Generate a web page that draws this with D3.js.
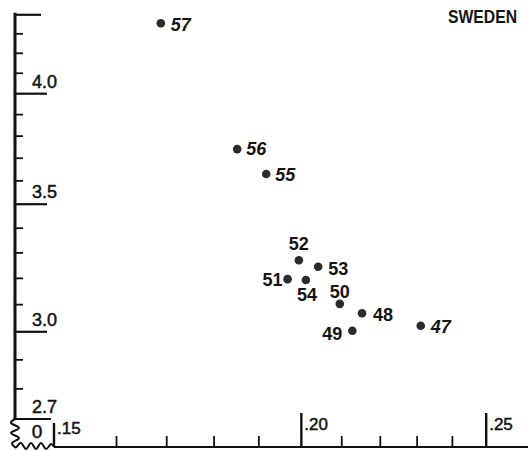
<!DOCTYPE html>
<html>
<head>
<meta charset="utf-8">
<script src="https://cdn.jsdelivr.net/npm/d3@7/dist/d3.min.js"></script>
<style>
  html, body { margin: 0; padding: 0; background: #fff; }
  svg { display: block; }
  text { font-family: "Liberation Sans", Arial, sans-serif; fill: #141414; }
</style>
</head>
<body>
<svg id="chart" width="528" height="451"></svg>
<script>
// Year labels (19xx) and their values on the two ratio (log) axes
const years   = ["47", "48", "49", "50", "51", "52", "53", "54", "55", "56", "57"];
const xValues = [0.231, 0.2152, 0.2127, 0.2095, 0.1967, 0.1994, 0.2041, 0.2011, 0.1917, 0.1851, 0.1688];
const yValues = [3.022, 3.068, 3.004, 3.103, 3.197, 3.271, 3.245, 3.194, 3.630, 3.741, 4.355];

// Axis ticks
const xTickValues = [0.15, 0.16, 0.17, 0.18, 0.19, 0.20, 0.21, 0.22, 0.23, 0.24, 0.25];
const xTickLabels = [".15", ".20", ".25"];
const yTickValues = [2.7, 2.8, 2.9, 3.0, 3.1, 3.2, 3.3, 3.4, 3.5, 3.6, 3.7, 3.8, 3.9, 4.0, 4.1, 4.2, 4.3, 4.4];
const yTickLabels = ["2.7", "3.0", "3.5", "4.0"];
const yLongTicks  = ["4.4"];

const title = "SWEDEN";
const originLabel = "0";

const svg = d3.select("#chart");

// Log scales; the x axis is broken between its origin and .16
const x = d3.scaleLog().domain([0.15, 0.16, 0.25]).range([54, 116.5, 486.2]);
const y = d3.scaleLog().domain([2.7, 4.4]).range([419, 14.8]);

const axisX0 = 15;     // vertical axis position
const baseY  = 447;    // horizontal axis position

// ---- vertical axis ----
svg.append("line")
  .attr("x1", axisX0).attr("x2", axisX0)
  .attr("y1", y(4.4) - 2).attr("y2", y(2.7))
  .attr("stroke", "#111").attr("stroke-width", 3);

const fmt1 = d3.format(".1f");
svg.append("g").selectAll("line")
  .data(yTickValues)
  .join("line")
  .attr("x1", axisX0)
  .attr("x2", d => {
    const s = fmt1(d);
    if (s === "2.7") return axisX0 + 36;
    if (yTickLabels.includes(s)) return axisX0 + 32;
    if (yLongTicks.includes(s)) return axisX0 + 26;
    return axisX0 + 8;
  })
  .attr("y1", d => y(d)).attr("y2", d => y(d))
  .attr("stroke", "#111")
  .attr("stroke-width", d => yTickLabels.includes(fmt1(d)) || yLongTicks.includes(fmt1(d)) ? 2.2 : 1.8);

svg.append("g").selectAll("text")
  .data(yTickValues.filter(d => yTickLabels.includes(fmt1(d))))
  .join("text")
  .attr("x", axisX0 + 17)
  .attr("y", d => y(d) - 6)
  .attr("font-size", 18)
  .attr("stroke", "#141414").attr("stroke-width", 0.5)
  .text(d => fmt1(d));

// ---- horizontal axis ----
svg.append("line")
  .attr("x1", x(0.15)).attr("x2", 528)
  .attr("y1", baseY).attr("y2", baseY)
  .attr("stroke", "#111").attr("stroke-width", 2);

const fmt2 = v => d3.format(".2f")(v).replace(/^0/, "");
svg.append("g").selectAll("line")
  .data(xTickValues)
  .join("line")
  .attr("x1", d => x(d)).attr("x2", d => x(d))
  .attr("y1", baseY)
  .attr("y2", d => {
    const s = fmt2(d);
    if (s === ".15") return baseY - 24;
    return xTickLabels.includes(s) ? baseY - 34 : baseY - 11;
  })
  .attr("stroke", "#111")
  .attr("stroke-width", d => xTickLabels.includes(fmt2(d)) ? 2.4 : 1.8);

svg.append("g").selectAll("text")
  .data(xTickValues.filter(d => xTickLabels.includes(fmt2(d))))
  .join("text")
  .attr("x", d => x(d) + 3)
  .attr("y", d => fmt2(d) === ".15" ? 434 : 430)
  .attr("font-size", 17)
  .attr("stroke", "#141414").attr("stroke-width", 0.5)
  .text(d => fmt2(d));

// ---- broken-axis marker at the origin ----
const wave = d3.line().curve(d3.curveCardinal);
svg.append("path")
  .attr("d", wave([[15, 419], [11, 423], [19, 428], [11, 433], [19, 438], [12, 443], [16, 448]]))
  .attr("fill", "none").attr("stroke", "#111").attr("stroke-width", 2);
svg.append("path")
  .attr("d", wave([[16, 448], [21, 443], [26, 449], [31, 443], [36, 449], [41, 443], [46, 449], [51, 444], [54, 447]]))
  .attr("fill", "none").attr("stroke", "#111").attr("stroke-width", 2);
svg.append("text")
  .attr("x", 37).attr("y", 438)
  .attr("text-anchor", "middle")
  .attr("font-size", 19)
  .attr("stroke", "#141414").attr("stroke-width", 0.5)
  .text(originLabel);

// ---- title ----
svg.append("text")
  .attr("x", 448).attr("y", 23)
  .attr("font-size", 18)
  .attr("font-weight", "bold")
  .attr("textLength", 69)
  .attr("lengthAdjust", "spacingAndGlyphs")
  .text(title);

// ---- points ----
const points = years.map((yr, i) => ({ yr, xv: xValues[i], yv: yValues[i] }));

svg.append("g").selectAll("circle")
  .data(points)
  .join("circle")
  .attr("cx", d => x(d.xv))
  .attr("cy", d => y(d.yv))
  .attr("r", 4.3)
  .attr("fill", "#2b2b2b");

// label placement around each point: [anchor, dx, dy]
const place = {
  "47": ["start", 10, 7.5], "48": ["start", 11, 8], "49": ["end", -10, 9],
  "50": ["middle", 0, -6], "51": ["end", -5, 7], "52": ["middle", 0, -10],
  "53": ["start", 10, 8], "54": ["middle", 1, 21.5], "55": ["start", 9, 6.5],
  "56": ["start", 9, 5.5], "57": ["start", 10, 7.5]
};

svg.append("g").selectAll("text")
  .data(points)
  .join("text")
  .attr("x", d => x(d.xv) + place[d.yr][1])
  .attr("y", d => y(d.yv) + place[d.yr][2])
  .attr("text-anchor", d => place[d.yr][0])
  .attr("font-size", 18)
  .attr("font-weight", "bold")
  .attr("font-style", d => ["57", "56", "55", "47"].includes(d.yr) ? "italic" : "normal")
  .text(d => d.yr);
</script>
</body>
</html>
